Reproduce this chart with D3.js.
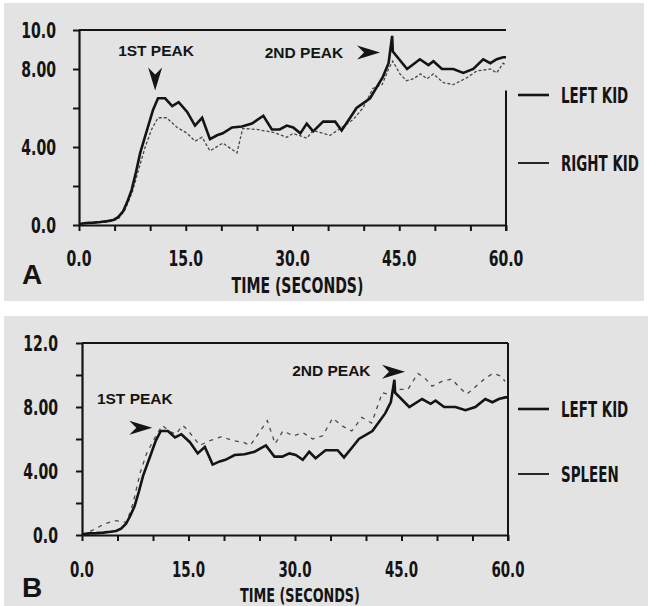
<!DOCTYPE html>
<html><head><meta charset="utf-8">
<script src="https://cdn.jsdelivr.net/npm/d3@7"></script>
<style>
html,body{margin:0;padding:0;background:#fff;}
svg{display:block;}
</style></head>
<body>
<svg id="chart" width="648" height="606"></svg>
<script>
// ---------------- DATA ----------------
const leftKidTime = [0,1,2,3,4,4.8,5.5,6.2,6.8,7.4,8.0,8.6,9.5,10.4,11.1,12.1,13.1,14.0,15.2,16.3,17.3,18.4,19.4,20.2,21.5,22.9,24.3,25.9,27.1,28.2,29.2,30.1,31.1,32.0,32.9,34.3,36.0,36.9,38.1,39.0,40.9,42.7,43.5,44.0,44.1,46.1,47.9,49.1,49.8,51.0,52.6,54.0,55.4,56.8,57.8,58.7,59.6,60];
const leftKidValue = [0.05,0.1,0.12,0.15,0.2,0.25,0.4,0.7,1.2,1.8,2.7,3.7,4.8,5.9,6.5,6.5,6.1,6.3,5.8,5.1,5.5,4.4,4.6,4.7,5.0,5.05,5.2,5.6,4.9,4.9,5.1,5.0,4.7,5.2,4.8,5.3,5.3,4.85,5.5,6.0,6.5,7.6,8.3,9.7,8.9,8.0,8.5,8.2,8.4,8.0,8.0,7.8,8.0,8.5,8.3,8.5,8.6,8.6];

const rightKidTime = [0,2,4,5.5,6.5,7.5,8.5,9.3,10.2,11.1,12.3,13.8,15.2,16.3,17.3,18.4,20.2,22.2,23.0,25.0,27.3,29.2,30.1,32.0,32.9,34.3,35.3,36.9,38.5,39.9,41.3,42.6,43.5,44.1,45.1,46.0,47.0,48.0,48.9,49.8,51.2,52.6,54.5,55.9,57.8,58.7,59.6,60];
const rightKidValue = [0.05,0.1,0.15,0.3,0.8,1.7,3.0,4.0,4.9,5.5,5.5,5.0,4.7,4.3,4.5,3.8,4.2,3.7,4.95,4.9,4.75,4.5,4.7,4.45,4.85,4.7,4.6,5.0,5.4,6.0,7.0,7.2,8.0,8.4,7.75,7.4,7.5,7.75,7.5,7.75,7.3,7.2,7.55,7.9,8.0,7.8,8.3,8.2];

const spleenTime = [0,1.5,3,4.5,5.5,6.3,7.2,8.2,9.1,10.3,11.3,12.3,13.2,14.2,14.8,16.6,18.0,19.7,21.2,22.7,23.7,24.8,26.1,27.2,28.3,29.8,31.1,32.5,33.9,35.3,36.7,38.0,39.4,40.8,42.3,43.1,44.4,45.9,47.3,48.3,49.3,50.7,52.1,53.2,54.2,55.5,56.8,57.9,58.9,59.6];
const spleenValue = [0,0.3,0.65,0.9,0.85,0.8,2.0,3.9,5.1,6.1,6.85,6.5,6.3,6.85,6.6,5.6,5.9,6.15,5.9,5.8,5.6,6.3,7.15,5.7,6.5,6.2,6.4,6.0,6.2,7.3,6.8,6.5,7.35,7.0,8.9,8.8,9.1,9.1,10.1,9.8,9.3,9.6,9.75,9.2,8.8,9.3,9.8,10.1,9.95,9.6];

const xTickValues = [0,5,10,15,20,25,30,35,40,45,50,55,60];
const xLabelValues = [0,15,30,45,60];
const xLabelText = ["0.0","15.0","30.0","45.0","60.0"];

const yTickValuesA = [0,2,4,6,8,10];
const yLabelValuesA = [0,4,8,10];
const yLabelTextA = ["0.0","4.00","8.00","10.0"];

const yTickValuesB = [0,2,4,6,8,10,12];
const yLabelValuesB = [0,4,8,12];
const yLabelTextB = ["0.0","4.00","8.00","12.0"];

const legendA = ["LEFT KID","RIGHT KID"];
const legendB = ["LEFT KID","SPLEEN"];
const xTitle = "TIME (SECONDS)";

// ---------------- DRAW ----------------
const svg = d3.select("#chart");
const BG = "#e3e3e3", INK = "#141414";
const COND = 0.64;

function ctext(g, x, y, str, size, anchor){
  return g.append("text")
    .attr("transform",`translate(${x},${y}) scale(${COND},1)`)
    .attr("x",0).attr("y",0).attr("text-anchor",anchor||"start")
    .attr("font-family","DejaVu Sans").attr("font-weight","bold")
    .attr("font-size",size).attr("fill",INK).text(str);
}

function zip(t,v){ return t.map((d,i)=>({t:d,v:v[i]})); }

svg.append("rect").attr("x",4).attr("y",3).attr("width",640).attr("height",298).attr("fill",BG);
svg.append("rect").attr("x",4).attr("y",316).attr("width",644).attr("height",290).attr("fill",BG);

function arrowPath(g, x, y, dir){
  const L=23, H=7, N=16;
  let p;
  if(dir==="right") p=[[x,y],[x-L,y-H],[x-N,y],[x-L,y+H]];
  else p=[[x,y],[x-H,y-L],[x,y-N],[x+H,y-L]];
  g.append("path").attr("d","M"+p.map(d=>d.join(",")).join("L")+"Z").attr("fill",INK);
}

function panel(cfg){
  const g = svg.append("g");
  const x = d3.scaleLinear().domain([0,60]).range([cfg.x0,cfg.x1]);
  const y = d3.scaleLinear().domain([0,cfg.ymax]).range([cfg.yb,cfg.yt]);

  const ax = g.append("g").attr("transform",`translate(0,${cfg.yb})`)
    .call(d3.axisBottom(x).tickValues(xTickValues).tickFormat("").tickSize(6).tickSizeOuter(0));
  const ay = g.append("g").attr("transform",`translate(${cfg.x0},0)`)
    .call(d3.axisLeft(y).tickValues(cfg.yTicks).tickFormat("").tickSize(6).tickSizeOuter(0));
  [ax,ay].forEach(a=>{
    a.select(".domain").attr("stroke",INK).attr("stroke-width",2.2);
    a.selectAll(".tick line").attr("stroke",INK).attr("stroke-width",2);
  });
  g.append("line").attr("x1",cfg.x0).attr("x2",cfg.x1).attr("y1",y(cfg.ymax)).attr("y2",y(cfg.ymax))
    .attr("stroke",INK).attr("stroke-width",2.2);
  g.append("line").attr("x1",cfg.x1).attr("x2",cfg.x1).attr("y1",y(cfg.rightTop)).attr("y2",cfg.yb+6)
    .attr("stroke",INK).attr("stroke-width",2);

  xLabelValues.forEach((d,i)=>ctext(g, x(d), cfg.xLabelY, xLabelText[i], cfg.labelSize, "middle"));
  cfg.yLabels.forEach((d,i)=>ctext(g, cfg.yLabelX, y(d)+8, cfg.yLabelText[i], 22, "end"));
  ctext(g, (cfg.x0+cfg.x1)/2+5, cfg.titleY, xTitle, cfg.titleSize, "middle");
  g.append("text").attr("x",22).attr("y",cfg.letterY)
    .attr("font-family","Liberation Sans").attr("font-weight","bold").attr("font-size",28).attr("fill",INK)
    .text(cfg.letter);

  const line = d3.line().x(d=>x(d.t)).y(d=>y(d.v));
  g.append("path").datum(zip(cfg.s2t,cfg.s2v)).attr("d",line).attr("fill","none")
    .attr("stroke","#4a4a4a").attr("stroke-width",1.3).attr("stroke-dasharray",cfg.dash);
  g.append("path").datum(zip(leftKidTime,leftKidValue)).attr("d",line).attr("fill","none")
    .attr("stroke",INK).attr("stroke-width",2.6).attr("stroke-linejoin","miter");

  cfg.legend.forEach((n,i)=>{
    g.append("line").attr("x1",518).attr("x2",549).attr("y1",cfg.legY[i]).attr("y2",cfg.legY[i])
      .attr("stroke",INK).attr("stroke-width",i===0?2.6:1.8);
    ctext(g, 561, cfg.legY[i]+8, n, 21, "start");
  });

  cfg.notes.forEach(a=>{
    g.append("text").attr("x",x(a.t)).attr("y",y(a.v))
      .attr("font-family","Liberation Sans").attr("font-weight","bold").attr("font-size",15.5).attr("fill",INK)
      .text(a.text);
  });
  cfg.arrows.forEach(a=>arrowPath(g,x(a.t),y(a.v),a.dir));
}

panel({
  x0:79, x1:506, yt:30, yb:225, ymax:10, yTicks:yTickValuesA,
  yLabels:yLabelValuesA, yLabelText:yLabelTextA, yLabelX:56,
  xLabelY:266, labelSize:22, titleY:293, titleSize:22, letter:"A", letterY:284, rightTop:6.9,
  s2t:rightKidTime, s2v:rightKidValue, dash:"3,2",
  legend:legendA, legY:[95,163],
  notes:[{t:5.5,v:8.65,text:"1ST PEAK"},{t:26.1,v:8.55,text:"2ND PEAK"}],
  arrows:[{t:10.7,v:6.9,dir:"down"},{t:42.3,v:8.85,dir:"right"}]
});
panel({
  x0:82, x1:508, yt:343, yb:535, ymax:12, yTicks:yTickValuesB,
  yLabels:yLabelValuesB, yLabelText:yLabelTextB, yLabelX:58,
  xLabelY:577, labelSize:21, titleY:602, titleSize:20, letter:"B", letterY:597, rightTop:12,
  s2t:spleenTime, s2v:spleenValue, dash:"4,5",
  legend:legendB, legY:[409,474],
  notes:[{t:2.1,v:8.2,text:"1ST PEAK"},{t:29.6,v:9.95,text:"2ND PEAK"}],
  arrows:[{t:9.9,v:6.7,dir:"right"},{t:45.5,v:10.2,dir:"right"}]
});
</script>
</body></html>
